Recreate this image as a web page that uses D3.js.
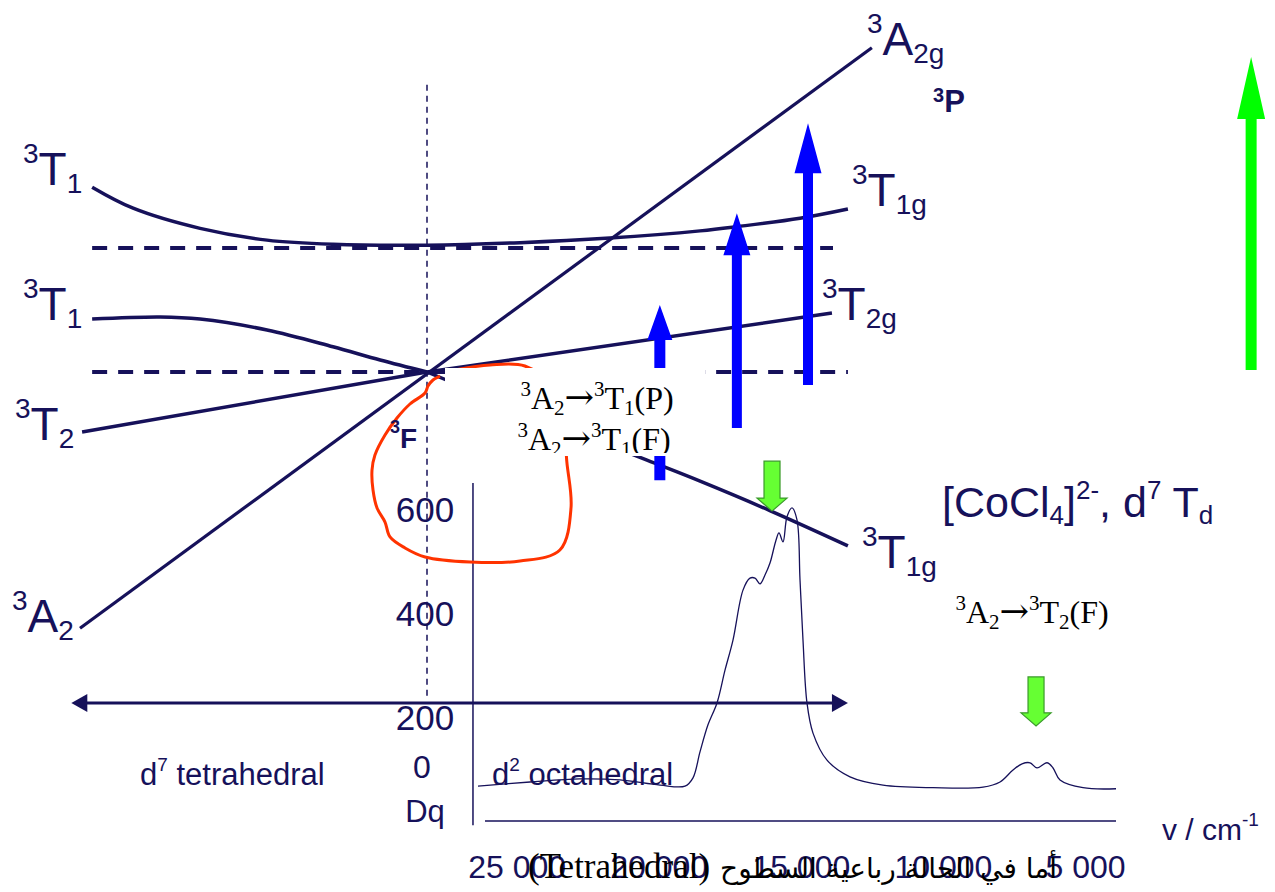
<!DOCTYPE html>
<html><head><meta charset="utf-8">
<script src="https://cdn.jsdelivr.net/npm/d3@7"></script>
<style>html,body{margin:0;padding:0;background:#fff;}svg{display:block;}</style>
</head><body>
<script>
// ---------- DATA ----------
// Orgel diagram: x = Dq (0 at free ion, negative = tetrahedral d7, positive = octahedral d2), y = energy (B units, 3F = 0)
const orgelT1P = [[-9.65,22.0],[-8.47,19.5],[-6.54,17.1],[-4.61,15.7],[-2.71,15.2],[0,15.1],[2.68,15.4],[5.27,15.95],[7.87,16.8],[8.93,17.3],[10.75,18.3],[12.13,19.4]];
const orgelT1Ftet = [[-9.65,6.3],[-7.69,6.55],[-6.54,6.3],[-4.61,5.0],[-2.71,3.0],[-1.35,1.43],[0,0]];
const orgelT1Foct = [[0,0],[3.26,-5.5],[6.34,-10.5],[7.87,-13.0],[9.88,-16.5],[12.13,-20.7]];
const orgelT2 = [[-9.94,-7.14],[0,0],[11.67,7.02]];
const orgelA2 = [[-10,-30.5],[12.82,38.6]];
const freeIonLevels = [{term:'3P', E:14.76, from:-9.65, to:11.7},{term:'3F', E:0, from:-9.65, to:12.13}];
// transitions (Dq, E bottom, E tip)
const blueTransitions = [[6.71,-12.9,7.98],[8.93,-6.67,18.9],[10.98,-1.55,29.6]];
const greenTransition = [23.75,0.24,37.5];
// hand-drawn red loop (Dq, E)
const redLoop = [[0.375,-0.48],[0.173,-0.95],[0.029,-1.67],[-0.058,-2.5],[-0.49,-3.81],[-0.865,-5.48],[-1.21,-7.5],[-1.50,-9.88],[-1.585,-11.67],[-1.556,-14.05],[-1.44,-16.19],[-1.21,-17.86],[-1.066,-19.64],[-0.634,-20.95],[-0.058,-22.02],[1.24,-22.62],[2.68,-22.5],[3.83,-21.19],[4.15,-16.19],[4.03,-10.71],[3.92,-5.71],[3.54,-1.55],[2.82,0.71],[1.82,0.83],[0.81,0.24]];

// Spectrum of [CoCl4]2- : wavenumber (cm-1) and epsilon
const specWavenumber = [26359,24530,22770,21362,19955,19075,18793,18547,18266,17949,17667,17386,17034,16788,16612,16436,16260,16084,15873,15767,15626,15486,15310,15134,15028,14923,14782,14571,14078,13269,12107,10348,8588,7990,7533,7216,6934,6688,6336,6125,5879,5069,3908];
const specEpsilon    = [67,75,81,79,69,67,83,133,185,227,290,348,444,467,467,456,473,496,540,554,537,585,602,579,464,348,227,169,117,85,69,64,65,75,98,110,112,102,112,102,79,64,62];
const epsTicks = [200,400,600];
const waveTicks = [25000,20000,15000,10000,5000];
const waveTickLabels = ['25 000','20 000','15 000','10 000','5 000'];
// spectral markers (wavenumber, eps top, eps tip)
const bandMarkers = [[16013,692,596],[6723,277,183]];

// ---------- SETUP ----------
const W = 1275, H = 892;
const NAVY = '#16115a';
const SANS = 'Liberation Sans, Arial, sans-serif';
const SERIF = 'Liberation Serif, Times New Roman, serif';
const svg = d3.select('body').append('svg').attr('width',W).attr('height',H);
svg.append('rect').attr('width',W).attr('height',H).attr('fill','#fff');

const xDq = d3.scaleLinear().domain([0,10]).range([427,774]);
const yE  = d3.scaleLinear().domain([0,15]).range([372,246]);
const xW  = d3.scaleLinear().domain([25000,5000]).range([516.6,1085]);
const yEps= d3.scaleLinear().domain([0,600]).range([821,509]);

const lineO = d3.line().x(d=>xDq(d[0])).y(d=>yE(d[1]));

// rich text helper
function rich(x, y, parts, size, opts={}) {
  const small = opts.small || size*0.58;
  const supDy = opts.sup || -size*0.47;
  const subDy = opts.sub || size*0.16;
  const t = svg.append('text').attr('x',x).attr('y',y)
    .attr('font-family', opts.family || SANS).attr('font-size', size)
    .attr('font-weight', opts.weight || 'normal')
    .attr('fill', opts.fill || NAVY);
  if (opts.anchor) t.attr('text-anchor', opts.anchor);
  if (opts.clip) t.attr('clip-path', opts.clip);
  let cur = 0;
  parts.forEach(([s,k]) => {
    const dy = k==='sup' ? supDy : k==='sub' ? subDy : 0;
    const ts = t.append('tspan').attr('dy', dy-cur).attr('font-size', k==='n'? size : small).text(s);
    if (s === '\u2192') ts.attr('font-family','DejaVu Serif, serif').attr('font-size', size*1.1);
    cur = dy;
  });
  return t;
}

// ---------- SPECTRUM ----------
const spec = specWavenumber.map((w,i)=>[w, specEpsilon[i]]);
svg.append('line').attr('x1',xW(26535)).attr('x2',xW(26535)).attr('y1',yEps(650)).attr('y2',yEps(-8))
  .attr('stroke',NAVY).attr('stroke-width',1.5);
svg.append('line').attr('x1',xW(26113)).attr('x2',xW(3908)).attr('y1',yEps(0)).attr('y2',yEps(0))
  .attr('stroke',NAVY).attr('stroke-width',1.5);
svg.append('path').datum(spec)
  .attr('d', d3.line().x(d=>xW(d[0])).y(d=>yEps(d[1])).curve(d3.curveCatmullRom.alpha(0.5)))
  .attr('fill','none').attr('stroke',NAVY).attr('stroke-width',1.3);

const gEps = svg.append('g').attr('transform','translate(455,0)')
  .call(d3.axisLeft(yEps).tickValues(epsTicks).tickSize(0).tickPadding(0));
gEps.select('.domain').remove();
gEps.selectAll('text').attr('font-family',SANS).attr('font-size',35).attr('fill',NAVY)
  .attr('text-anchor','middle').attr('x',-30).attr('dy','0.35em');

const gW = svg.append('g').attr('transform','translate(0,878)')
  .call(d3.axisBottom(xW).tickValues(waveTicks).tickSize(0).tickFormat((d,i)=>waveTickLabels[i]));
gW.select('.domain').remove();
gW.selectAll('text').attr('font-family',SANS).attr('font-size',32).attr('fill',NAVY).attr('y',0).attr('dy',0);

// ---------- ORGEL DIAGRAM ----------
freeIonLevels.forEach(l => {
  svg.append('line').attr('x1',xDq(l.from)).attr('x2',xDq(l.to)).attr('y1',yE(l.E)).attr('y2',yE(l.E))
    .attr('stroke',NAVY).attr('stroke-width',4).attr('stroke-dasharray','15,11');
});
svg.append('line').attr('x1',xDq(0)).attr('x2',xDq(0)).attr('y1',yE(34.2)).attr('y2',yE(-39))
  .attr('stroke',NAVY).attr('stroke-width',1.5).attr('stroke-dasharray','6,5');

const smooth = d3.line().x(d=>xDq(d[0])).y(d=>yE(d[1])).curve(d3.curveCatmullRom.alpha(0.5));
[orgelT1P, orgelT1Ftet, orgelT1Foct].forEach(a=>{
  svg.append('path').datum(a).attr('d',smooth).attr('fill','none').attr('stroke',NAVY).attr('stroke-width',3.5);
});
svg.append('path').datum(orgelT2).attr('d',lineO).attr('fill','none').attr('stroke',NAVY).attr('stroke-width',3.5);
svg.append('path').datum(orgelA2).attr('d',lineO).attr('fill','none').attr('stroke',NAVY).attr('stroke-width',3.2);

{
  const y = yE(-39.4), x1 = xDq(-10.25), x2 = xDq(12.13);
  svg.append('line').attr('x1',x1+12).attr('x2',x2-12).attr('y1',y).attr('y2',y).attr('stroke',NAVY).attr('stroke-width',3);
  svg.append('path').attr('d',`M${x1},${y}L${x1+16},${y-9}L${x1+16},${y+9}Z`).attr('fill',NAVY);
  svg.append('path').attr('d',`M${x2},${y}L${x2-16},${y-9}L${x2-16},${y+9}Z`).attr('fill',NAVY);
}

function upArrow(x, yb, yt, sw, hw, hl, fill) {
  const d = `M${x-sw/2},${yb}L${x-sw/2},${yt+hl}L${x-hw/2},${yt+hl}L${x},${yt}L${x+hw/2},${yt+hl}L${x+sw/2},${yt+hl}L${x+sw/2},${yb}Z`;
  svg.append('path').attr('d',d).attr('fill',fill);
}
function downArrow(x, yt, yb, sw, hw, hl, fill, stroke) {
  const d = `M${x-sw/2},${yt}L${x-sw/2},${yb-hl}L${x-hw/2},${yb-hl}L${x},${yb}L${x+hw/2},${yb-hl}L${x+sw/2},${yb-hl}L${x+sw/2},${yt}Z`;
  svg.append('path').attr('d',d).attr('fill',fill).attr('stroke',stroke).attr('stroke-width',1.2);
}
const blueHeads = [[11,25,35],[10,27,42],[10,27,50]];
blueTransitions.forEach((t,i)=>{
  upArrow(xDq(t[0]), yE(t[1]), yE(t[2]), blueHeads[i][0], blueHeads[i][1], blueHeads[i][2], '#0000ff');
});
upArrow(xDq(greenTransition[0]), yE(greenTransition[1]), yE(greenTransition[2]), 11, 28, 62, '#00ff00');

svg.append('path').datum(redLoop).attr('d',smooth).attr('fill','none').attr('stroke','#ff3300').attr('stroke-width',3);

bandMarkers.forEach(m=>{
  downArrow(xW(m[0]), yEps(m[1]), yEps(m[2]), 16, 30, 13, '#66ff33', '#3a9a2a');
});

// white text box with transition labels
svg.append('clipPath').attr('id','boxclip').append('rect').attr('x',445).attr('y',368).attr('width',260).attr('height',85);
svg.append('rect').attr('x',445).attr('y',368).attr('width',260).attr('height',88).attr('fill','#fff');
const tOpts = {family:SERIF, fill:'#000', small:21, sup:-13, sub:6, anchor:'middle', clip:'url(#boxclip)'};
rich(597, 409, [['3','sup'],['A','n'],['2','sub'],['\u2192','n'],['3','sup'],['T','n'],['1','sub'],['(P)','n']], 32, tOpts);
rich(594, 450, [['3','sup'],['A','n'],['2','sub'],['\u2192','n'],['3','sup'],['T','n'],['1','sub'],['(F)','n']], 32, tOpts);
rich(1032, 623, [['3','sup'],['A','n'],['2','sub'],['\u2192','n'],['3','sup'],['T','n'],['2','sub'],['(F)','n']], 32, {family:SERIF, fill:'#000', small:21, sup:-13, sub:6, anchor:'middle'});

// term labels
const termOpts = {small:28, sup:-22, sub:8};
rich(23,185,[['3','sup'],['T','n'],['1','sub']],46,termOpts);
rich(23,320,[['3','sup'],['T','n'],['1','sub']],46,termOpts);
rich(15,440,[['3','sup'],['T','n'],['2','sub']],46,termOpts);
rich(12,632,[['3','sup'],['A','n'],['2','sub']],46,termOpts);
rich(867,55,[['3','sup'],['A','n'],['2g','sub']],46,termOpts);
rich(852,206,[['3','sup'],['T','n'],['1g','sub']],46,termOpts);
rich(822,320,[['3','sup'],['T','n'],['2g','sub']],46,termOpts);
rich(862,568,[['3','sup'],['T','n'],['1g','sub']],46,termOpts);
rich(933,112,[['3','sup'],['P','n']],31,{weight:'bold',small:20,sup:-10});
rich(390,448,[['3','sup'],['F','n']],28,{weight:'bold',small:18,sup:-15});

rich(942,517,[['[CoCl','n'],['4','sub'],[']','n'],['2-','sup'],[', d','n'],['7','sup'],[' T','n'],['d','sub']],43,{small:26,sup:-18,sub:7});

svg.append('text').attr('x',xDq(0)-5).attr('y',778).attr('text-anchor','middle').attr('font-family',SANS).attr('font-size',32).attr('fill',NAVY).text('0');
svg.append('text').attr('x',xDq(0)-2).attr('y',822).attr('text-anchor','middle').attr('font-family',SANS).attr('font-size',31).attr('fill',NAVY).text('Dq');
rich(140,785,[['d','n'],['7','sup'],[' tetrahedral','n']],31,{small:19,sup:-14});
rich(492,785,[['d','n'],['2','sup'],[' octahedral','n']],31,{small:19,sup:-14});
rich(1162,840,[['v / cm','n'],['-1','sup']],30,{small:19,sup:-14});

svg.append('text').attr('x',528).attr('y',878).attr('font-family',SERIF).attr('font-size',35).attr('fill','#000').text('(Tetrahedral)');
svg.append('text').attr('x',1057).attr('y',878).attr('text-anchor','end').attr('font-family','DejaVu Sans, sans-serif').attr('font-size',28).attr('fill','#000').text('أما في الحالة رباعية السطوح');
</script>
</body></html>
